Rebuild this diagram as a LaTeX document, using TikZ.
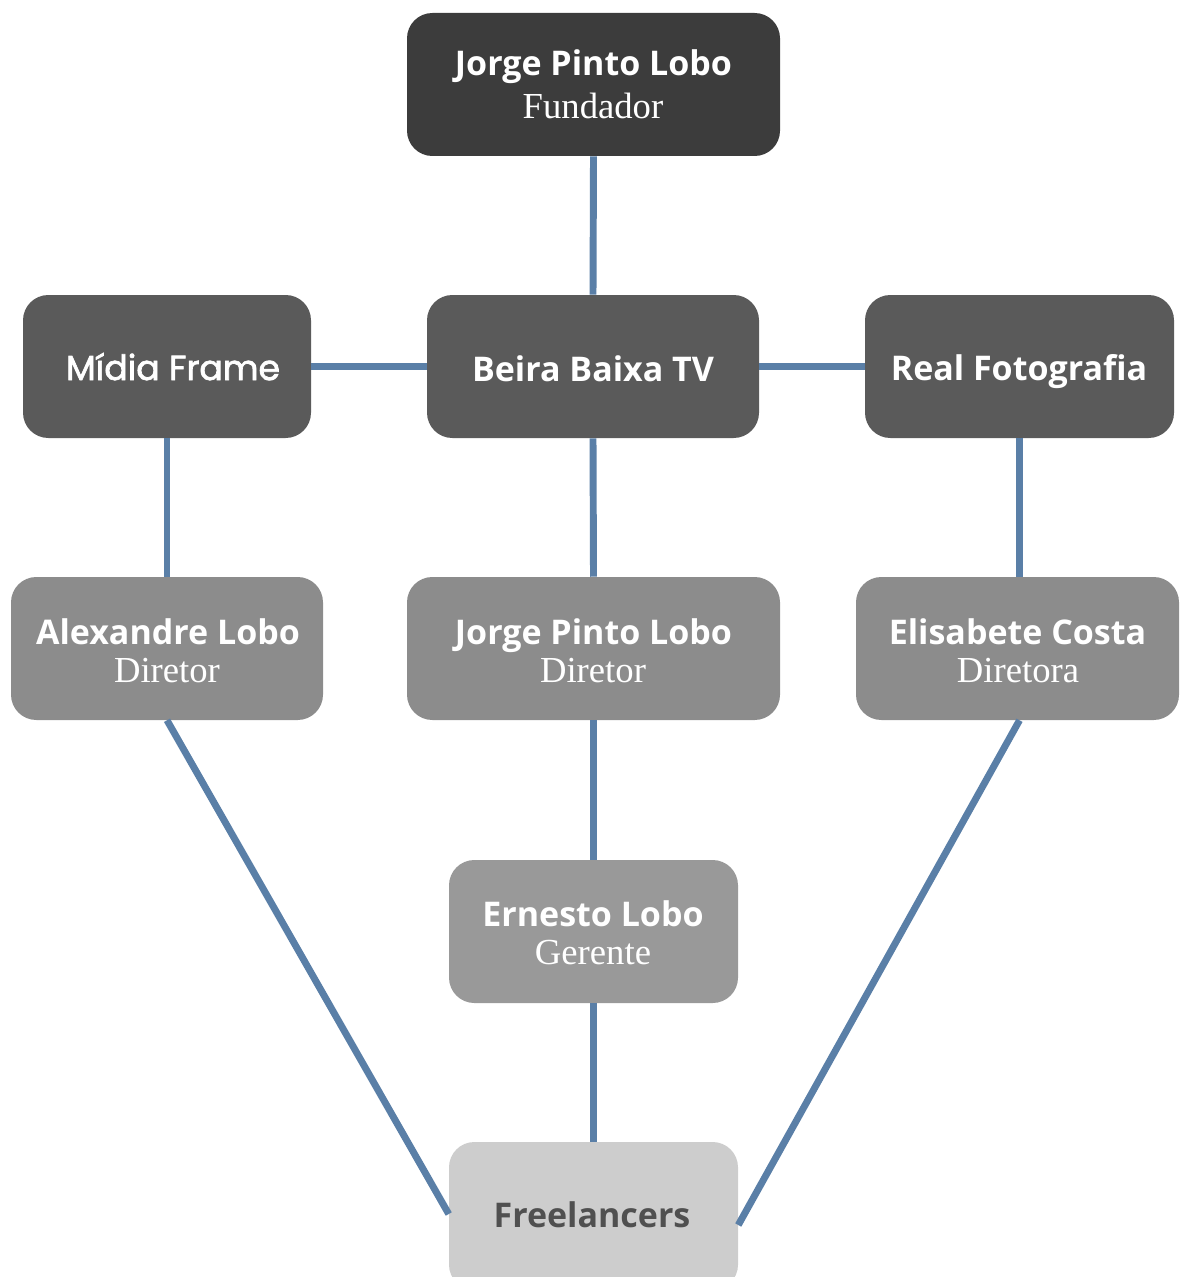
\documentclass[tikz,border=0pt]{standalone}
\usepackage{fontspec}
\setmainfont{Open Sans}
\newfontfamily\titlefont{Open Sans}
\newfontfamily\geofont[FakeBold=2]{Poppins}
\newfontfamily\subfont{Liberation Serif}
\definecolor{lvA}{HTML}{3C3C3C}
\definecolor{lvB}{HTML}{5A5A5A}
\definecolor{lvC}{HTML}{8C8C8C}
\definecolor{lvD}{HTML}{999999}
\definecolor{lvE}{HTML}{CDCDCD}
\definecolor{linkc}{HTML}{5A7FA7}
\begin{document}
\begin{tikzpicture}[x=0.75pt,y=-0.75pt,
  orgbox/.style={rounded corners=19pt,draw=none,inner sep=0pt,text=white,align=center},
  link/.style={draw=linkc,line width=5.2pt},
  nm/.style={anchor=base,font=\titlefont\bfseries\fontsize{25.5}{28}\selectfont},
  sb/.style={anchor=base,font=\subfont\fontsize{27.5}{30}\selectfont},
]
\useasboundingbox (0,0) rectangle (1179,1277);
% boxes
\path[orgbox,fill=lvA] (407,13) rectangle (780,156);
\node (top) at (593.5,84.5) [minimum width=373*0.75pt,minimum height=143*0.75pt] {};
\path[orgbox,fill=lvB] (23,295) rectangle (311,438);
\node (midia) at (167,366.5) [minimum width=288*0.75pt,minimum height=143*0.75pt] {};
\path[orgbox,fill=lvB] (427,295) rectangle (759,438);
\node (beira) at (593,366.5) [minimum width=332*0.75pt,minimum height=143*0.75pt] {};
\path[orgbox,fill=lvB] (865,295) rectangle (1174,438);
\node (real) at (1019.5,366.5) [minimum width=309*0.75pt,minimum height=143*0.75pt] {};
\path[orgbox,fill=lvC] (11,577) rectangle (323,720);
\node (alex) at (167,648.5) [minimum width=312*0.75pt,minimum height=143*0.75pt] {};
\path[orgbox,fill=lvC] (407,577) rectangle (780,720);
\node (jdir) at (593.5,648.5) [minimum width=373*0.75pt,minimum height=143*0.75pt] {};
\path[orgbox,fill=lvC] (856,577) rectangle (1179,720);
\node (elis) at (1017.5,648.5) [minimum width=323*0.75pt,minimum height=143*0.75pt] {};
\path[orgbox,fill=lvD] (449,860) rectangle (738,1003);
\node (ern) at (593.5,931.5) [minimum width=289*0.75pt,minimum height=143*0.75pt] {};
\path[orgbox,fill=lvE] (449,1142) rectangle (738,1290);
\node (free) at (593.5,1214) [minimum width=289*0.75pt,minimum height=144*0.75pt] {};
% connectors
\draw[link] (top.south) -- (beira.north);
\draw[link] (beira.west) -- (midia.east);
\draw[link] (beira.east) -- (real.east -| real.west);
\draw[link] (midia.south) -- (alex.north);
\draw[link] (beira.south) -- (jdir.north);
\draw[link] (real.south) -- (real.south |- elis.north);
\draw[link] (jdir.south) -- (ern.north);
\draw[link] (ern.south) -- (free.north);
\draw[link] (alex.south) -- (free.west);
\draw[link] (elis.south -| real.south) -- ([yshift=-11*0.75pt]free.east);
% texts
\node[text=white,nm] at (593.5,76) {Jorge Pinto Lobo};
\node[text=white,sb] at (593,119) {Fundador};
\node[text=white,anchor=base,font=\geofont\fontsize{26}{28}\selectfont] at (173,380) {Mídia Frame};
\node[text=white,nm] at (593,381) {Beira Baixa TV};
\node[text=white,nm] at (1019,380) {Real Fotografia};
\node[text=white,nm] at (168,644) {Alexandre Lobo};
\node[text=white,sb] at (167,682) {Diretor};
\node[text=white,nm] at (593.5,644) {Jorge Pinto Lobo};
\node[text=white,sb] at (593,682) {Diretor};
\node[text=white,nm] at (1017.5,644) {Elisabete Costa};
\node[text=white,sb] at (1018,682) {Diretora};
\node[text=white,nm] at (593,926) {Ernesto Lobo};
\node[text=white,sb] at (593,964) {Gerente};
\node[text=lvA!90,nm] at (592,1227) {Freelancers};
\end{tikzpicture}
\end{document}
